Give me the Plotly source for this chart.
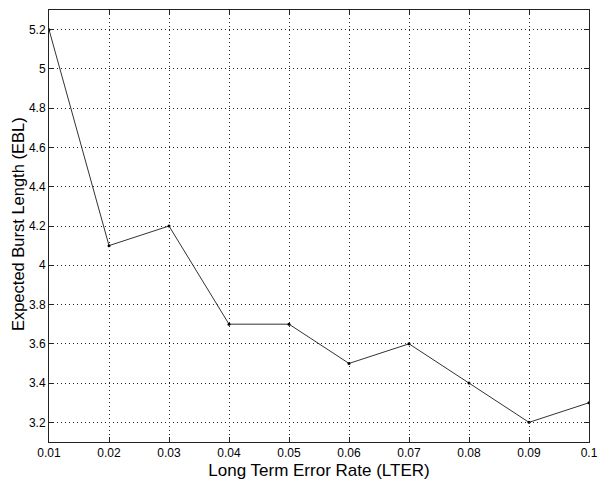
import plotly.graph_objects as go

lter = [0.01, 0.02, 0.03, 0.04, 0.05, 0.06, 0.07, 0.08, 0.09, 0.10]
ebl = [5.2, 4.1, 4.2, 3.7, 3.7, 3.5, 3.6, 3.4, 3.2, 3.3]

x_tickvals = [0.01, 0.02, 0.03, 0.04, 0.05, 0.06, 0.07, 0.08, 0.09, 0.10]
x_ticktext = ["0.01", "0.02", "0.03", "0.04", "0.05", "0.06", "0.07", "0.08", "0.09", "0.1"]
y_tickvals = [3.2, 3.4, 3.6, 3.8, 4.0, 4.2, 4.4, 4.6, 4.8, 5.0, 5.2]
y_ticktext = ["3.2", "3.4", "3.6", "3.8", "4", "4.2", "4.4", "4.6", "4.8", "5", "5.2"]

font = "Liberation Sans, Arial, Helvetica, sans-serif"

fig = go.Figure()
fig.add_trace(go.Scatter(
    x=lter, y=ebl, mode="lines+markers",
    line=dict(color="#333333", width=1),
    marker=dict(color="black", size=3),
    showlegend=False,
))

axis_common = dict(
    showline=True, linecolor="#222222", linewidth=1, mirror="ticks",
    ticks="inside", ticklen=5, tickcolor="#222222",
    showgrid=True, gridcolor="#222222", gridwidth=1, griddash="1px,3px",
    zeroline=False, tickfont=dict(family=font, size=12, color="black"),
    ticklabeloverflow="allow",
)

fig.update_xaxes(range=[0.01, 0.10], tickvals=x_tickvals, ticktext=x_ticktext,
                 title=dict(text="Long Term Error Rate (LTER)", font=dict(family=font, size=17, color="black"), standoff=4),
                 **axis_common)
fig.update_yaxes(range=[3.1, 5.3], tickvals=y_tickvals, ticktext=y_ticktext, **axis_common)

fig.add_annotation(text="Expected Burst Length (EBL)", xref="paper", yref="paper",
                   x=-0.057, y=0.505, xanchor="center", yanchor="middle", textangle=-90,
                   showarrow=False, font=dict(family=font, size=16.5, color="black"))

fig.update_layout(
    width=600, height=481,
    margin=dict(l=49, r=2, t=10, b=39),
    paper_bgcolor="white", plot_bgcolor="white",
)

fig.write_html("out.html", config={"displayModeBar": False},
               post_script="document.body.style.margin='0';document.body.style.overflow='hidden';")
